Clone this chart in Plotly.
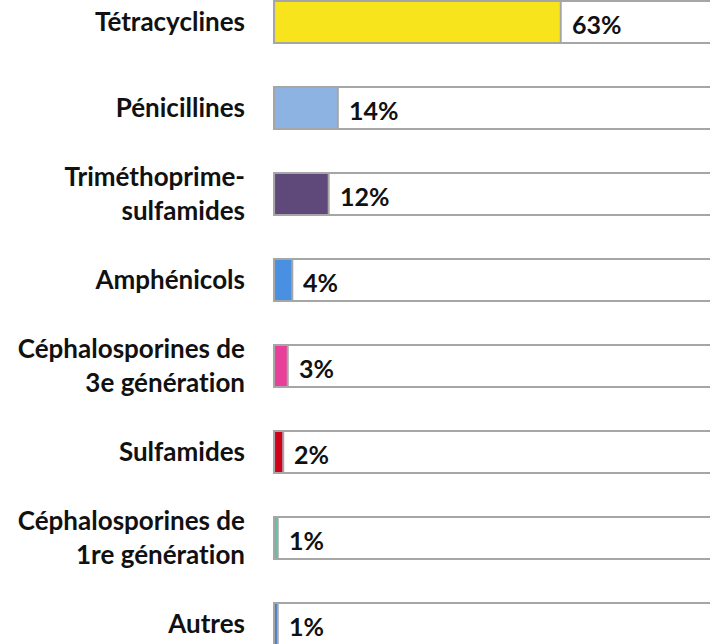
import plotly.graph_objects as go

ZWNJ = "\u200c"  # avoids the Lato "ti" ligature
categories = ["Tétracyclines", "Pénicillines", "Triméthoprime-<br>sulfamides", "Amphénicols",
              "Céphalosporines de<br>3e générat" + ZWNJ + "ion", "Sulfamides",
              "Céphalosporines de<br>1re générat" + ZWNJ + "ion", "Autres"]
values = [63, 14, 12, 4, 3, 2, 0.8, 0.8]
value_labels = ["63%", "14%", "12%", "4%", "3%", "2%", "1%", "1%"]
colors = ["#f7e41d", "#8db3e2", "#5f497a", "#4a90e2", "#e8409a", "#d0021b", "#50c8a8", "#3a7bd5"]
full = [100] * len(categories)

ypos = list(range(len(categories)))
FONT = "Lato, 'Open Sans', sans-serif"

fig = go.Figure()
fig.add_trace(go.Bar(
    y=ypos, x=full, orientation="h", width=0.49,
    marker=dict(color="white", line=dict(color="#a6a6a6", width=2)),
    hoverinfo="skip", showlegend=False,
))
fig.add_trace(go.Bar(
    y=ypos, x=values, orientation="h", width=0.49,
    marker=dict(color=colors, line=dict(color="#a6a6a6", width=2)),
    showlegend=False,
))

for yv, v, lab in zip(ypos, values, value_labels):
    fig.add_annotation(
        x=v, y=yv, xref="x", yref="y", text=lab, showarrow=False,
        xanchor="left", yanchor="middle", xshift=9, yshift=-2,
        font=dict(family=FONT, size=25, color="#111111", weight="bold"),
    )

fig.update_layout(
    width=710, height=644,
    margin=dict(l=270, r=0, t=0, b=0),
    barmode="overlay",
    paper_bgcolor="white", plot_bgcolor="white",
    xaxis=dict(range=[-0.9, 95.8], visible=False, fixedrange=True),
    yaxis=dict(
        range=[7.233, -0.256], tickmode="array", tickvals=ypos, ticktext=categories,
        showgrid=False, zeroline=False, showline=False,
        ticks="", ticklabelstandoff=24,
        tickfont=dict(family=FONT, size=26, color="#111111", weight="bold"),
    ),
    font=dict(family=FONT),
)

fig.write_html("out.html", config={"displayModeBar": False},
               post_script="document.body.style.margin='0px';")
